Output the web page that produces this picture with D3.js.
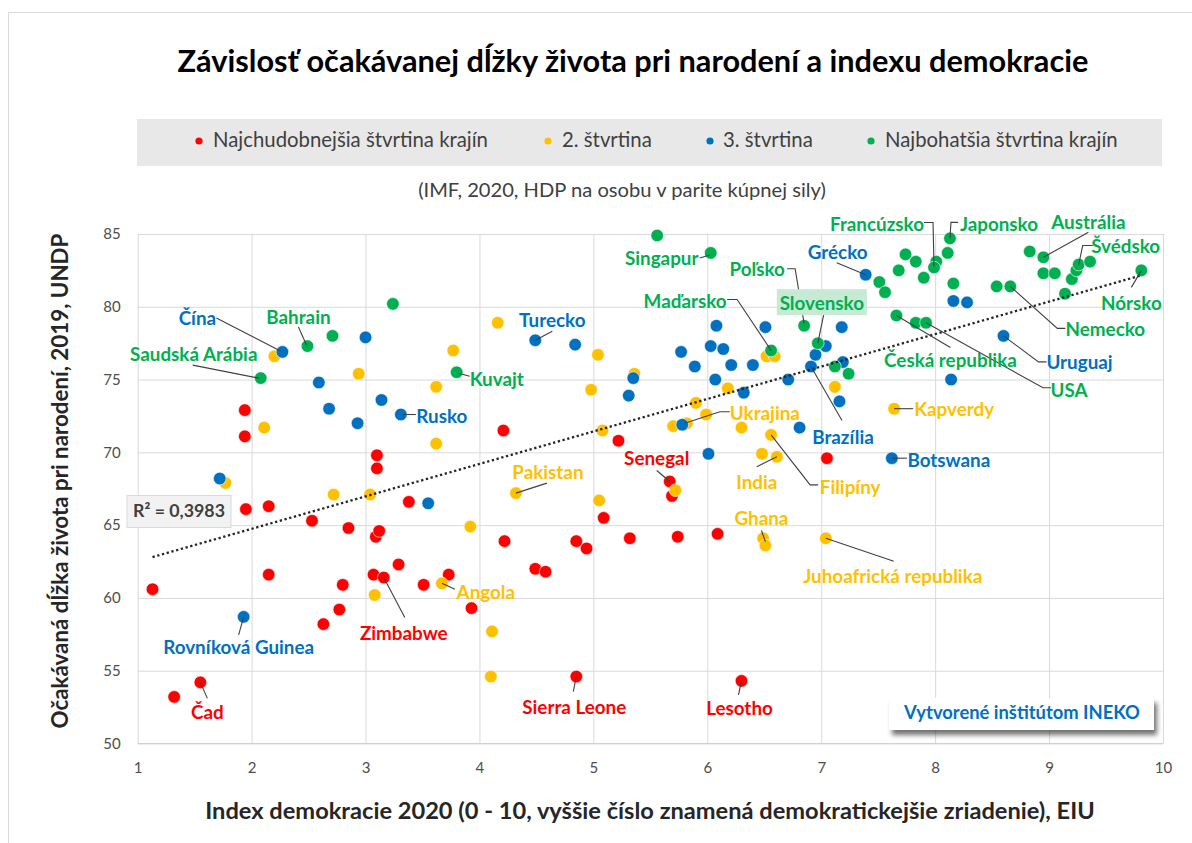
<!DOCTYPE html>
<html>
<head>
<meta charset="utf-8">
<script src="https://cdn.jsdelivr.net/npm/d3@7"></script>
<style>
html,body{margin:0;padding:0;background:#fff;}
svg{display:block;font-family:Lato,"Open Sans",sans-serif;}
</style>
</head>
<body>
<svg id="chart" width="1192" height="843"></svg>
<script>
// ---------------- DATA ----------------
const chartTitle = "Závislosť očakávanej dĺžky života pri narodení a indexu demokracie";
const chartSubtitle = "(IMF, 2020, HDP na osobu v parite kúpnej sily)";
const xAxisTitle = "Index demokracie 2020 (0 - 10, vyššie číslo znamená demokratickejšie zriadenie), EIU";
const yAxisTitle = "Očakávaná dĺžka života pri narodení, 2019, UNDP";
const creditText = "Vytvorené inštitútom INEKO";
const rSquaredText = "R² = 0,3983";

const seriesNames = ["Najchudobnejšia štvrtina krajín", "2. štvrtina", "3. štvrtina", "Najbohatšia štvrtina krajín"];
const xTicks = [1, 2, 3, 4, 5, 6, 7, 8, 9, 10];
const yTicks = [50, 55, 60, 65, 70, 75, 80, 85];

// [democracy index, life expectancy, label]
const poorestQuartile = [
  [1.13,60.6],[1.32,53.2],[1.55,54.2,"Čad"],[1.94,72.9],[1.94,71.1],[1.95,66.1],[2.15,66.3],
  [2.15,61.6],[2.53,65.3],[2.63,58.2],[2.77,59.2],[2.80,60.9],[2.85,64.8],[3.07,61.6],
  [3.09,64.2],[3.12,64.6],[3.10,69.8],[3.10,68.9],[3.16,61.4,"Zimbabwe"],[3.29,62.3],
  [3.38,66.6],[3.51,60.9],[3.73,61.6],[3.93,59.3],[4.21,71.5],[4.22,63.9],[4.49,62.0],
  [4.58,61.8],[4.85,63.9],[4.94,63.4],[4.85,54.6,"Sierra Leone"],[5.09,65.5],[5.22,70.8],
  [5.32,64.1],[5.67,68.0,"Senegal"],[5.69,67.0],[5.74,64.2],[6.09,64.4],[6.30,54.3,"Lesotho"],
  [7.05,69.6]
];
const secondQuartile = [
  [1.77,67.9],[2.11,71.7],[2.20,76.6],[2.72,67.1],[2.94,75.4],[3.04,67.1],[3.08,60.2],
  [3.62,74.5],[3.62,70.6],[3.67,61.0,"Angola"],[3.77,77.0],[3.92,64.9],[4.10,54.6],[4.11,57.7],
  [4.16,78.9],[4.32,67.2,"Pakistan"],[4.98,74.3],[5.04,76.7],[5.05,66.7],[5.08,71.5],[5.36,75.4],
  [5.70,71.8],[5.72,67.4],[5.82,72.0,"Ukrajina"],[5.90,73.4],[5.99,72.6],[6.18,74.4],[6.30,71.7],
  [6.48,69.9],[6.61,69.7,"India"],[6.56,71.2,"Filipíny"],[6.49,64.1],[6.51,63.6,"Ghana"],
  [6.52,76.6],[6.59,76.6],[7.04,64.1,"Juhoafrická republika"],[7.12,74.5],[7.64,73.0,"Kapverdy"]
];
const thirdQuartile = [
  [1.72,68.2],[1.93,58.7,"Rovníková Guinea"],[2.27,76.9,"Čína"],[2.59,74.8],[2.68,73.0],[2.93,72.0],
  [3.00,77.9],[3.14,73.6],[3.31,72.6,"Rusko"],[3.55,66.5],[4.49,77.7,"Turecko"],[4.84,77.4],
  [5.31,73.9],[5.35,75.1],[5.77,76.9],[5.78,71.9],[5.89,75.9],[6.01,69.9],[6.03,77.3],[6.07,75.0],
  [6.08,78.7],[6.14,77.1],[6.21,76.0],[6.32,74.1],[6.40,76.0],[6.51,78.6],[6.71,75.0],[6.81,71.7],
  [6.91,75.9,"Brazília"],[6.95,76.7],[7.04,77.3],[7.16,73.5],[7.18,78.6],[7.19,76.2],
  [7.39,82.2,"Grécko"],[7.62,69.6,"Botswana"],[8.14,75.0],[8.16,80.4],[8.28,80.3],[8.60,78.0,"Uruguaj"]
];
const richestQuartile = [
  [2.08,75.1,"Saudská Arábia"],[2.49,77.3,"Bahrain"],[2.71,78.0],[3.24,80.2],[3.80,75.5,"Kuvajt"],
  [5.56,84.9],[6.03,83.7,"Singapur"],[6.56,77.0,"Maďarsko"],[6.85,78.7,"Poľsko"],[6.97,77.5,"Slovensko"],
  [7.12,75.9],[7.24,75.4],[7.51,81.7],[7.56,81.0],[7.66,79.4,"Česká republika"],[7.68,82.5],
  [7.74,83.6],[7.83,83.1],[7.83,78.9],[7.90,82.0],[7.92,78.9,"USA"],[8.01,83.1],
  [7.99,82.7,"Francúzsko"],[8.11,83.7],[8.13,84.7,"Japonsko"],[8.16,81.6],[8.54,81.4],
  [8.66,81.4,"Nemecko"],[8.83,83.8],[8.95,83.4,"Austrália"],[8.95,82.3],[9.05,82.3],[9.14,80.9],
  [9.20,81.9],[9.24,82.5],[9.26,82.9,"Švédsko"],[9.36,83.1],[9.81,82.5,"Nórsko"]
];

// ---------------- LAYOUT / STYLE ----------------
const colors = ["#ff0000", "#ffc000", "#0070c0", "#00b050"];
const series = [poorestQuartile, secondQuartile, thirdQuartile, richestQuartile];

// label offsets (px) from the point; leader polyline points relative to the point
const labelLayout = {
  "Čína": {dx:-85, dy:-34, leader:[[-66,-34],[-2,-1]]},
  "Bahrain": {dx:-9, dy:-30, leader:[[-9,-19],[-1,-1]]},
  "Saudská Arábia": {dx:-67, dy:-25, leader:[[-68,-13],[-2,0]]},
  "Rusko": {dx:41, dy:1, leader:[[2,0],[15,0]]},
  "Kuvajt": {dx:40, dy:6, leader:[[2,1],[13,4]]},
  "Turecko": {dx:17, dy:-21, leader:[[17,-9],[0,0]]},
  "Singapur": {dx:-49, dy:5, leader:[[-11,5],[-1,2]]},
  "Poľsko": {dx:-47, dy:-57, leader:[[-17,-57],[-9,-57],[0,-2]]},
  "Maďarsko": {dx:-86, dy:-50, leader:[[-44,-51],[-34,-51],[0,0]]},
  "Slovensko": {dx:4, dy:-41, leader:[[6,-29],[0,0]], box:true},
  "Ukrajina": {dx:78, dy:-11, leader:[[43,-11.5],[33,-11.5],[-2,0]]},
  "Brazília": {dx:32, dy:70, leader:[[0,0],[31,54]]},
  "Senegal": {dx:-13, dy:-24, leader:[[-13,-11],[0,0]]},
  "Pakistan": {dx:32, dy:-22, leader:[[31,-10],[0,0]]},
  "India": {dx:-20, dy:25, leader:[[-20,10],[0,0]]},
  "Filipíny": {dx:79, dy:52, leader:[[0,0],[39,50],[47,50]]},
  "Kapverdy": {dx:60, dy:0, leader:[[0,0],[19,0]]},
  "Botswana": {dx:57, dy:1, leader:[[0,0],[15,0]]},
  "Ghana": {dx:-4, dy:-28, leader:[[-4,-15],[0,-4]]},
  "Juhoafrická republika": {dx:67, dy:37, leader:[[0,0],[68,23]]},
  "Angola": {dx:44, dy:8, leader:[[0,0],[13,6]]},
  "Zimbabwe": {dx:20, dy:55, leader:[[0,0],[21,40]]},
  "Rovníková Guinea": {dx:-5, dy:30, leader:[[0,0],[-5,18]]},
  "Čad": {dx:7, dy:29, leader:[[0,0],[7,16]]},
  "Sierra Leone": {dx:-2, dy:30, leader:[[0,0],[-3,15]]},
  "Lesotho": {dx:-2, dy:27, leader:[[0,0],[-3,14]]},
  "Grécko": {dx:-28, dy:-23, leader:[[-29,-12],[0,0]]},
  "Francúzsko": {dx:-57, dy:-44, leader:[[-10,-45],[-1,-45],[0,-1]]},
  "Japonsko": {dx:49, dy:-15, leader:[[8,-16],[1,-16],[0,0]]},
  "Austrália": {dx:45, dy:-36, leader:[[45,-25],[0,0]]},
  "Švédsko": {dx:47, dy:-19, leader:[[14,-19],[4,-19],[0,0]]},
  "Nórsko": {dx:-10, dy:32, leader:[[-10,17],[0,0]]},
  "Nemecko": {dx:95, dy:42, leader:[[0,0],[47,42],[55,42]]},
  "Česká republika": {dx:54, dy:44, leader:[[0,0],[54,32]]},
  "USA": {dx:143, dy:67, leader:[[0,0],[117,65],[125,65]]},
  "Uruguaj": {dx:76, dy:26, leader:[[0,0],[35,26],[43,26]]}
};

// ---------------- DRAW ----------------
const svg = d3.select("#chart");
const W = 1192, H = 843;
const plot = {left:137.7, right:1163, top:234, bottom:743.5};
const x = d3.scaleLinear().domain([1,10]).range([plot.left, plot.right]);
const y = d3.scaleLinear().domain([50,85]).range([plot.bottom, plot.top]);

function fitWidth(sel, target) {
  const w = sel.node().getComputedTextLength();
  const fs = parseFloat(sel.attr("font-size"));
  sel.attr("font-size", (fs * target / w).toFixed(2));
  return fs * target / w;
}

const defs = svg.append("defs");
const shadow = defs.append("filter").attr("id","shadow").attr("x","-20%").attr("y","-40%").attr("width","140%").attr("height","200%");
shadow.append("feDropShadow").attr("dx",3).attr("dy",5).attr("stdDeviation",2.5).attr("flood-color","#000").attr("flood-opacity",0.55);

// outer border
svg.append("rect").attr("x",8.5).attr("y",12.5).attr("width",W).attr("height",H)
  .attr("fill","#fff").attr("stroke","#d9d9d9").attr("stroke-width",1);

// title
const t = svg.append("text").attr("x",633).attr("y",72).attr("text-anchor","middle")
  .attr("font-weight","700").attr("font-size",24).attr("fill","#000").text(chartTitle);
fitWidth(t, 911);

// legend
svg.append("rect").attr("x",137).attr("y",119).attr("width",1025).attr("height",47).attr("fill","#e8e8e8");
const legendDotX = [199, 548, 710, 871];
const legendTextX = [213, 562, 723, 885];
const legendG = svg.append("g");
const lt0 = legendG.append("text").attr("x",legendTextX[0]).attr("y",147).attr("font-size",16).attr("fill","#404040").text(seriesNames[0]);
const legendFs = fitWidth(lt0, 275);
seriesNames.forEach((n,i)=>{
  legendG.append("circle").attr("cx",legendDotX[i]).attr("cy",141).attr("r",3.6).attr("fill",colors[i]);
  if(i>0) legendG.append("text").attr("x",legendTextX[i]).attr("y",147).attr("font-size",legendFs).attr("fill","#404040").text(n);
});

// subtitle
const st = svg.append("text").attr("x",622).attr("y",197).attr("text-anchor","middle")
  .attr("font-size",16).attr("fill","#404040").text(chartSubtitle);
fitWidth(st, 408);

// grid + axes
const gx = svg.append("g").attr("transform",`translate(0,${plot.bottom})`)
  .call(d3.axisBottom(x).tickValues(xTicks).tickFormat(d3.format("d")).tickSize(-(plot.bottom-plot.top)).tickPadding(19));
const gy = svg.append("g").attr("transform",`translate(${plot.left},0)`)
  .call(d3.axisLeft(y).tickValues(yTicks).tickFormat(d3.format("d")).tickSize(-(plot.right-plot.left)).tickPadding(17));
[gx, gy].forEach(g=>{
  g.select(".domain").remove();
  g.attr("font-size",15).attr("font-family","Lato, sans-serif");
  g.selectAll(".tick line").attr("stroke","#d9d9d9").attr("stroke-width",1);
  g.selectAll(".tick text").attr("fill","#4d4d4d");
});
svg.append("line").attr("x1",plot.left).attr("x2",plot.right).attr("y1",plot.bottom).attr("y2",plot.bottom)
  .attr("stroke","#d0d0d0").attr("stroke-width",1);

// axis titles
const xt = svg.append("text").attr("x",650).attr("y",819).attr("text-anchor","middle")
  .attr("font-weight","700").attr("font-size",19).attr("fill","#262626").text(xAxisTitle);
fitWidth(xt, 890);
const yt = svg.append("text").attr("transform","translate(68,481) rotate(-90)").attr("text-anchor","middle")
  .attr("font-weight","700").attr("font-size",19).attr("fill","#262626").text(yAxisTitle);
fitWidth(yt, 495);

// points
series.forEach((s,i)=>{
  svg.append("g").selectAll("circle").data(s).join("circle")
    .attr("cx",d=>x(d[0])).attr("cy",d=>y(d[1])).attr("r",6.3)
    .attr("fill",colors[i]).attr("stroke","#fff").attr("stroke-width",0.6);
});

// linear trend (least squares on all points)
const all = series.flat();
const mx = d3.mean(all,d=>d[0]), my = d3.mean(all,d=>d[1]);
const slope = d3.sum(all,d=>(d[0]-mx)*(d[1]-my)) / d3.sum(all,d=>(d[0]-mx)**2);
const intercept = my - slope*mx;
const [xmin,xmax] = d3.extent(all,d=>d[0]);
svg.append("line").attr("x1",x(xmin)).attr("y1",y(intercept+slope*xmin))
  .attr("x2",x(xmax)).attr("y2",y(intercept+slope*xmax))
  .attr("stroke","#262626").attr("stroke-width",2.3).attr("stroke-dasharray","2.3 2.6");

// R² box
svg.append("rect").attr("x",127).attr("y",495.5).attr("width",104).attr("height",32)
  .attr("fill","#f2f2f2").attr("stroke","#d9d9d9");
const rt = svg.append("text").attr("x",179).attr("y",517).attr("text-anchor","middle")
  .attr("font-weight","700").attr("font-size",15).attr("fill","#404040").text(rSquaredText);
fitWidth(rt, 92);

// labels
const leaderG = svg.append("g");
const labelG = svg.append("g");
const labeled = [];
series.forEach((s,i)=>s.forEach(d=>{ if(d[2]) labeled.push({d, c:colors[i]}); }));
const probe = labelG.append("text").attr("font-size",16).attr("font-weight","700").text("Juhoafrická republika");
const labelFs = fitWidth(probe, 179);
probe.remove();
labeled.forEach(({d,c})=>{
  const L = labelLayout[d[2]];
  if(!L) return;
  const px = x(d[0]), py = y(d[1]);
  leaderG.append("polyline")
    .attr("points", L.leader.map(p=>[px+p[0], py+p[1]].join(",")).join(" "))
    .attr("fill","none").attr("stroke","#404040").attr("stroke-width",1.1);
  if(L.box){
    labelG.append("rect").attr("x",px+L.dx-45).attr("y",py+L.dy-13).attr("width",90).attr("height",26)
      .attr("fill","#c6ead3");
  }
  labelG.append("text").attr("x",px+L.dx).attr("y",py+L.dy).attr("text-anchor","middle")
    .attr("dominant-baseline","central").attr("font-size",labelFs).attr("font-weight","700")
    .attr("fill",c).text(d[2]);
});

// credit box
svg.append("rect").attr("x",889).attr("y",698).attr("width",265).attr("height",32)
  .attr("fill","#fff").attr("filter","url(#shadow)");
const ct = svg.append("text").attr("x",1022).attr("y",719).attr("text-anchor","middle")
  .attr("font-weight","700").attr("font-size",15).attr("fill","#0070c0").text(creditText);
fitWidth(ct, 236);
</script>
</body>
</html>
